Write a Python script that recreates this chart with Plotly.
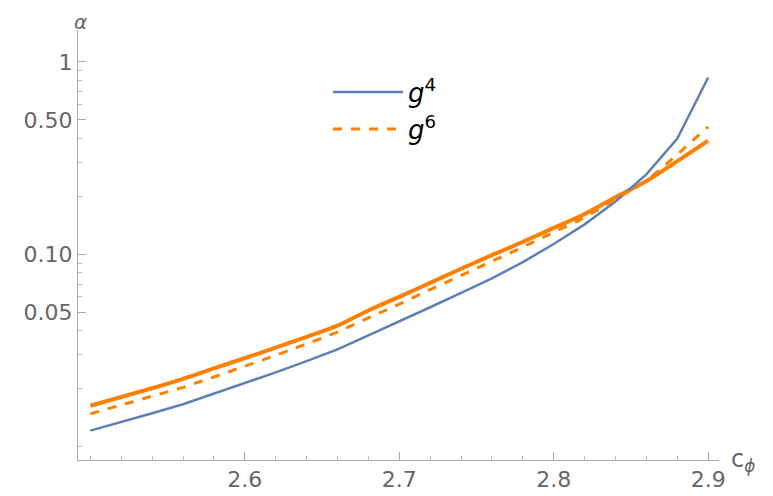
import plotly.graph_objects as go

c_phi = [2.50, 2.52, 2.54, 2.56, 2.58, 2.60, 2.62, 2.64, 2.66, 2.68, 2.70,
         2.72, 2.74, 2.76, 2.78, 2.80, 2.82, 2.84, 2.86, 2.88, 2.90]
alpha_g4 = [0.0121, 0.0134, 0.0149, 0.0166, 0.0188, 0.0213, 0.0243, 0.0278, 0.032, 0.0378, 0.0446,
            0.053, 0.063, 0.075, 0.091, 0.113, 0.143, 0.188, 0.26, 0.40, 0.83]
alpha_solid = [0.0163, 0.0181, 0.0201, 0.0225, 0.0255, 0.0288, 0.0327, 0.0372, 0.0425, 0.051, 0.060,
               0.071, 0.084, 0.099, 0.116, 0.137, 0.162, 0.198, 0.24, 0.305, 0.39]
alpha_g6 = [0.0148, 0.0164, 0.0182, 0.0203, 0.0230, 0.0261, 0.0298, 0.0342, 0.0393, 0.0467, 0.055,
            0.0655, 0.078, 0.092, 0.109, 0.130, 0.155, 0.193, 0.24, 0.33, 0.46]

BLUE = '#5E81B5'
ORANGE = '#FF8000'
GRAY = '#666666'

fig = go.Figure()
fig.add_trace(go.Scatter(x=c_phi, y=alpha_solid, mode='lines', showlegend=False,
                         line=dict(color=ORANGE, width=4, shape='spline')))
fig.add_trace(go.Scatter(x=c_phi, y=alpha_g4, mode='lines', name='<i>g</i><sup>4</sup>',
                         line=dict(color=BLUE, width=2.5)))
fig.add_trace(go.Scatter(x=c_phi, y=alpha_g6, mode='lines', name='<i>g</i><sup>6</sup>',
                         line=dict(color=ORANGE, width=3, dash='dash')))

fig.update_layout(
    width=773, height=496,
    margin=dict(l=70, r=62, t=22, b=44),
    plot_bgcolor='white', paper_bgcolor='white',
    font=dict(family='DejaVu Sans', color=GRAY),
    legend=dict(x=0.39, y=0.91, xanchor='left', yanchor='top',
                font=dict(size=26, color='black'), tracegroupgap=22,
                itemwidth=70, bgcolor='rgba(0,0,0,0)'),
    xaxis=dict(range=[2.492, 2.907], showgrid=False, zeroline=False,
               showline=True, linecolor='#aaaaaa', ticks='inside', ticklen=8,
               tickcolor='#aaaaaa', tickvals=[2.6, 2.7, 2.8, 2.9],
               tickfont=dict(size=22, color=GRAY),
               minor=dict(ticks='inside', ticklen=4, dtick=0.02, tickcolor='#bbbbbb')),
    yaxis=dict(type='log', range=[-2.07, 0.166], showgrid=False, zeroline=False,
               showline=True, linecolor='#aaaaaa', ticks='inside', ticklen=8,
               tickcolor='#aaaaaa', tickvals=[0.05, 0.1, 0.5, 1],
               ticktext=['0.05', '0.10', '0.50', '1'],
               tickfont=dict(size=22, color=GRAY),
               minor=dict(ticks='inside', ticklen=4, tickcolor='#bbbbbb',
                          tickvals=[0.01, 0.02, 0.03, 0.04, 0.06, 0.07, 0.08, 0.09,
                                    0.2, 0.3, 0.4, 0.6, 0.7, 0.8, 0.9])),
)
fig.add_annotation(xref='paper', yref='paper', x=0, y=1, xanchor='center', yanchor='bottom',
                   yshift=-6, xshift=2, text='<i>α</i>', showarrow=False,
                   font=dict(size=20, color=GRAY))
fig.add_annotation(xref='paper', yref='paper', x=1, y=0, xanchor='left', yanchor='middle',
                   xshift=10, text='c<sub><i>ϕ</i></sub>', showarrow=False,
                   font=dict(size=24, color=GRAY))

fig.write_html('out.html')
